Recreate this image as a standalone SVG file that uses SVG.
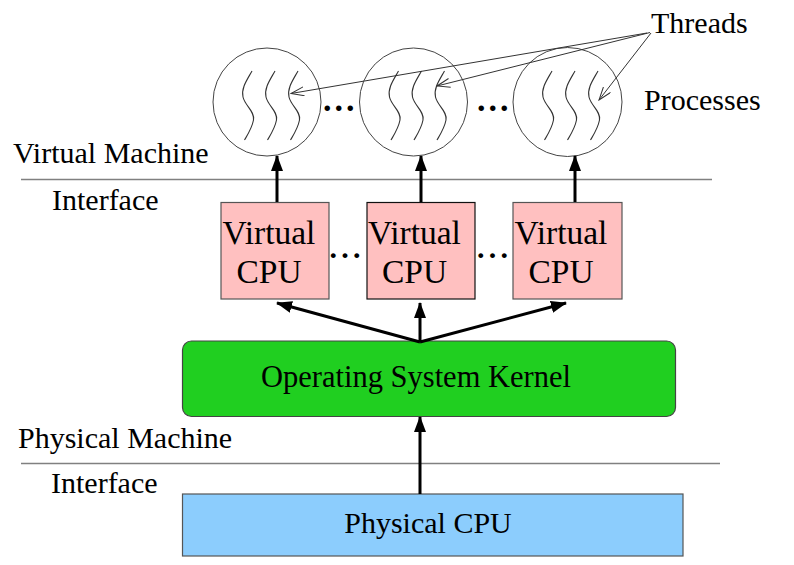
<svg xmlns="http://www.w3.org/2000/svg" width="794" height="565" viewBox="0 0 794 565">
<style>
text{font-family:"Liberation Serif","Times New Roman",serif;fill:#000}
.lbl{font-size:30px}
.vc{font-size:33.5px;text-anchor:middle}
.proc{fill:#fff;stroke:#444;stroke-width:1}
.thr{fill:none;stroke:#333;stroke-width:1.1}
.vcpu{fill:#ffc0c0;stroke:#555;stroke-width:1.2}
.sep{stroke:#808080;stroke-width:1.3}
.bold{stroke:#000;stroke-width:3;fill:none}
.thin{stroke:#333;stroke-width:1;fill:none}
.dots{font-size:34px;font-weight:bold;letter-spacing:3px}
</style>
<defs>
<marker id="ah" markerUnits="userSpaceOnUse" markerWidth="16" markerHeight="12" refX="15" refY="6" orient="auto">
<path d="M0,0 L16,6 L0,12 Z" fill="#000"/>
</marker>
<marker id="oh" markerUnits="userSpaceOnUse" markerWidth="14" markerHeight="10" refX="13" refY="5" orient="auto">
<path d="M0,0.5 L13,5 L0,9.5" fill="none" stroke="#333" stroke-width="1"/>
</marker>
<path id="thread" d="M0,0 C-5,9 -11,17 -9,26 C-7,35 3,40 1.5,49 C0,57 -4,63 -7.5,69"/>
</defs>

<g id="separators">
<line class="sep" x1="21" y1="179.5" x2="712" y2="179.5"/>
<line class="sep" x1="21" y1="463.5" x2="720" y2="463.5"/>
</g>

<g id="labels">
<text class="lbl" x="651" y="33">Threads</text>
<text class="lbl" x="644" y="110">Processes</text>
<text class="lbl" x="13" y="163">Virtual Machine</text>
<text class="lbl" x="52" y="210">Interface</text>
<text class="lbl" x="18" y="448">Physical Machine</text>
<text class="lbl" x="51" y="493">Interface</text>
</g>

<g id="process1">
<circle class="proc" cx="267" cy="102" r="54"/>
<use href="#thread" class="thr" x="252" y="71"/>
<use href="#thread" class="thr" x="275" y="71"/>
<use href="#thread" class="thr" x="298" y="71"/>
</g>
<g id="process2">
<circle class="proc" cx="413.5" cy="102" r="54"/>
<use href="#thread" class="thr" x="398.5" y="71"/>
<use href="#thread" class="thr" x="421.5" y="71"/>
<use href="#thread" class="thr" x="444.5" y="71"/>
</g>
<g id="process3">
<circle class="proc" cx="567.5" cy="102" r="54.5"/>
<use href="#thread" class="thr" x="552" y="71"/>
<use href="#thread" class="thr" x="575" y="71"/>
<use href="#thread" class="thr" x="598" y="71"/>
</g>
<g id="proc-dots">
<text class="dots" x="323" y="110.5">...</text>
<text class="dots" x="477" y="110.5">...</text>
</g>

<g id="vcpu1">
<rect class="vcpu" x="221" y="202.5" width="108" height="96.5"/>
<text class="vc" x="269" y="244">Virtual</text>
<text class="vc" x="269" y="283">CPU</text>
</g>
<g id="vcpu2">
<rect class="vcpu" x="367" y="202.5" width="108" height="96.5" style="stroke:#111"/>
<text class="vc" x="414.5" y="244">Virtual</text>
<text class="vc" x="414.5" y="283">CPU</text>
</g>
<g id="vcpu3">
<rect class="vcpu" x="513" y="202.5" width="109" height="96.5"/>
<text class="vc" x="561" y="244">Virtual</text>
<text class="vc" x="561" y="283">CPU</text>
</g>
<g id="vcpu-dots">
<text class="dots" x="329.5" y="258" style="font-size:30px;letter-spacing:4.3px">...</text>
<text class="dots" x="477" y="258" style="font-size:30px;letter-spacing:4.3px">...</text>
</g>

<g id="kernel">
<rect x="182.5" y="341" width="493" height="75.5" rx="9" fill="#20cf20" stroke="#444" stroke-width="1.2"/>
<text class="lbl" x="416" y="387" text-anchor="middle" style="font-size:30.5px">Operating System Kernel</text>
</g>

<g id="physical-cpu">
<rect x="182.5" y="494" width="500.5" height="62" fill="#8ccdfd" stroke="#555" stroke-width="1.2"/>
<text class="lbl" x="428" y="533" text-anchor="middle">Physical CPU</text>
</g>

<g id="connectors">
<line class="bold" x1="277" y1="202" x2="277" y2="156" marker-end="url(#ah)"/>
<line class="bold" x1="421" y1="202" x2="421" y2="156" marker-end="url(#ah)"/>
<line class="bold" x1="575" y1="202" x2="575" y2="156" marker-end="url(#ah)"/>
<line class="bold" x1="420" y1="342" x2="277" y2="303" marker-end="url(#ah)"/>
<line class="bold" x1="420" y1="342" x2="420" y2="303" marker-end="url(#ah)"/>
<line class="bold" x1="420" y1="342" x2="566" y2="303" marker-end="url(#ah)"/>
<line class="bold" x1="420" y1="494" x2="420" y2="417" marker-end="url(#ah)"/>
<line class="thin" x1="647" y1="33" x2="291" y2="93.5" marker-end="url(#oh)"/>
<line class="thin" x1="650" y1="32.5" x2="437" y2="86" marker-end="url(#oh)"/>
<line class="thin" x1="651" y1="33" x2="599" y2="100" marker-end="url(#oh)"/>
</g>
</svg>
